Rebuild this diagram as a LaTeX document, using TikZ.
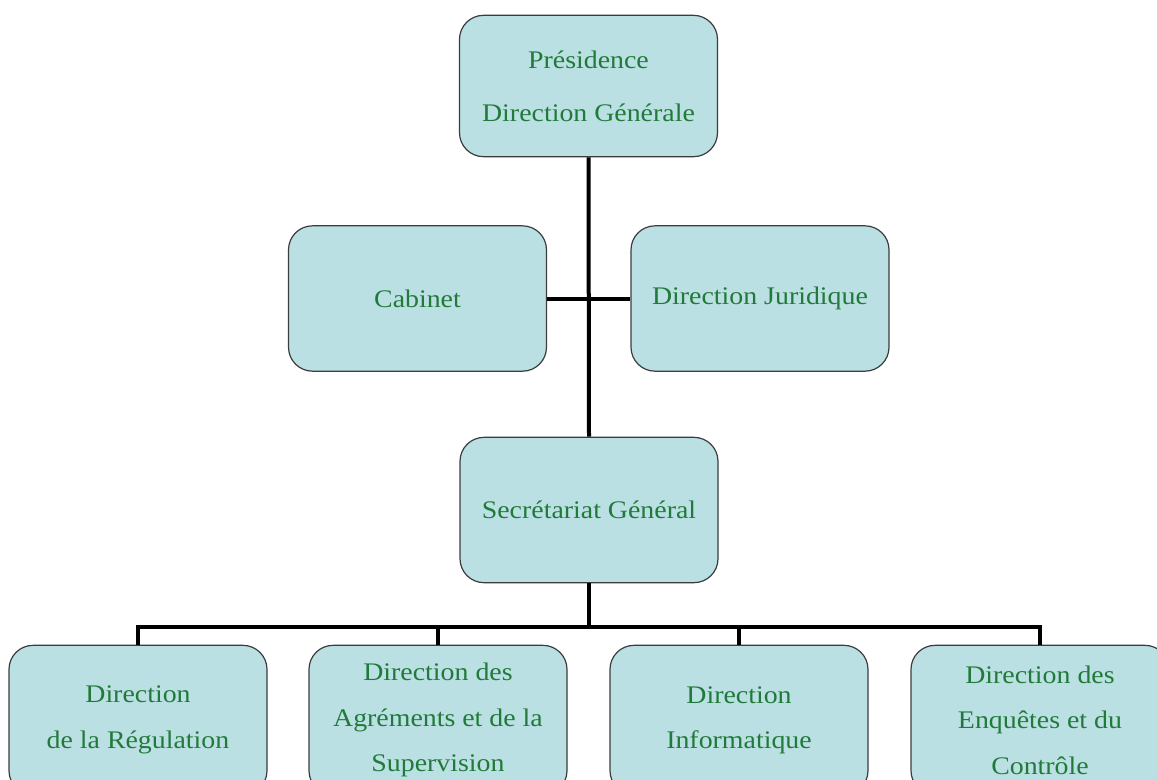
\documentclass[tikz,border=0pt]{standalone}
\usepackage{fontspec}
\setmainfont{Liberation Serif}[FakeStretch=1.1]
\definecolor{boxfill}{RGB}{186,224,227}
\definecolor{boxline}{RGB}{60,60,60}
\definecolor{txtgreen}{RGB}{34,122,58}
\begin{document}
\begin{tikzpicture}[x=0.75pt,y=-0.75pt,
  orgbox/.style={draw=boxline, line width=0.9pt, fill=boxfill, rounded corners=18pt,
    minimum width=193.5pt, minimum height=109pt, align=center, inner sep=0pt,
    text=txtgreen, font=\fontsize{19}{34}\selectfont},
  link/.style={line width=3pt, black}]
\useasboundingbox (0,0) rectangle (1157,779);
\clip (0,0) rectangle (1157,779);
\fill[white] (0,0) rectangle (1157,779);
% nodes
\node[orgbox, minimum height=106pt, font=\fontsize{19}{40}\selectfont] (pdg) at (588.5,86) {Présidence\\Direction Générale};
\node[orgbox] (cab) at (417.5,298.5) {Cabinet};
\node[orgbox] (jur) at (760,298.5) {Direction Juridique};
\node[orgbox] (sg) at (589,510) {Secrétariat Général};
\node[orgbox, minimum height=112pt] (reg) at (138,720) {Direction\\de la Régulation};
\node[orgbox, minimum height=112pt] (agr) at (438,720) {Direction des\\Agréments et de la\\Supervision};
\node[orgbox, minimum height=112pt] (inf) at (739,720) {Direction\\Informatique};
\node[orgbox, minimum height=112pt] (enq) at (1040,720) {Direction des\\Enquêtes et du\\Contrôle};
% connectors
\coordinate (bus) at (589,627);
\draw[link] (pdg.south) -- (sg.north);
\draw[link] (cab.east) -- (jur.west);
\draw[link] (sg.south) -- (bus);
\draw[link] (reg.north) -- (reg.north |- bus) -- (enq.north |- bus) -- (enq.north);
\draw[link] (agr.north) -- (agr.north |- bus);
\draw[link] (inf.north) -- (inf.north |- bus);
\end{tikzpicture}
\end{document}
